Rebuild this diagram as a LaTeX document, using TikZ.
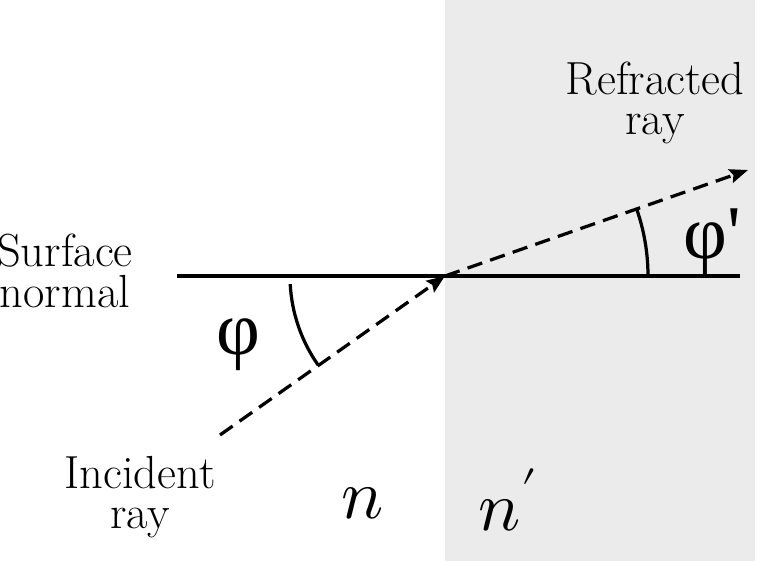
\documentclass[tikz,border=0pt]{standalone}
\usepackage{unicode-math}
\newfontfamily\greekfont{Liberation Serif}
\usetikzlibrary{arrows.meta}
\definecolor{medium}{HTML}{EBEBEB}
\tikzset{
  ray/.style={line width=2.3pt, dash pattern=on 11pt off 6pt, -{Stealth[length=13pt,width=10pt,inset=2pt]}},
  label/.style={align=center, font=\fontsize{33pt}{29pt}\selectfont},
  angle/.style={font=\greekfont\fontsize{54pt}{54pt}\selectfont},
  index/.style={font=\fontsize{50pt}{50pt}\selectfont}
}
\begin{document}
\begin{tikzpicture}[x=0.025cm, y=0.025cm]
  \useasboundingbox (0, 0) rectangle (776, 561);
  % medium
  \fill[medium] (445, 0) rectangle (755, 561);
  % points
  \coordinate (hit) at (445, 285);
  \coordinate (inc) at (220, 126);
  \coordinate (refr) at (748, 391);
  \coordinate (nl) at (177, 285);
  \coordinate (nr) at (740, 285);
  % lines
  \draw[line width=2.3pt] (nl) -- (nr);
  \draw[ray] (inc) -- (hit);
  \draw[ray] (hit) -- (refr);
  % angles
  \draw[line width=2.3pt] (hit) ++(183:155) arc[start angle=183, end angle=215, radius=3.875cm];
  \draw[line width=2.3pt] (hit) ++(0:203) arc[start angle=0, end angle=19, radius=5.075cm];
  % labels
  \node[label] (surface) at (65, 290) {Surface\\normal};
  \node[label] (incident) at (140, 64) {Incident\\ray};
  \node[label] (refracted) at (655, 458) {Refracted\\ray};
  \node[angle] (phi) at (238, 216) {φ};
  \node[angle] (phip) at (712, 319) {φ'};
  \node[index] (nleft) at (363, 58) {$n$};
  \node[index] (nright) at (508, 61) {$n'$};
\end{tikzpicture}
\end{document}
